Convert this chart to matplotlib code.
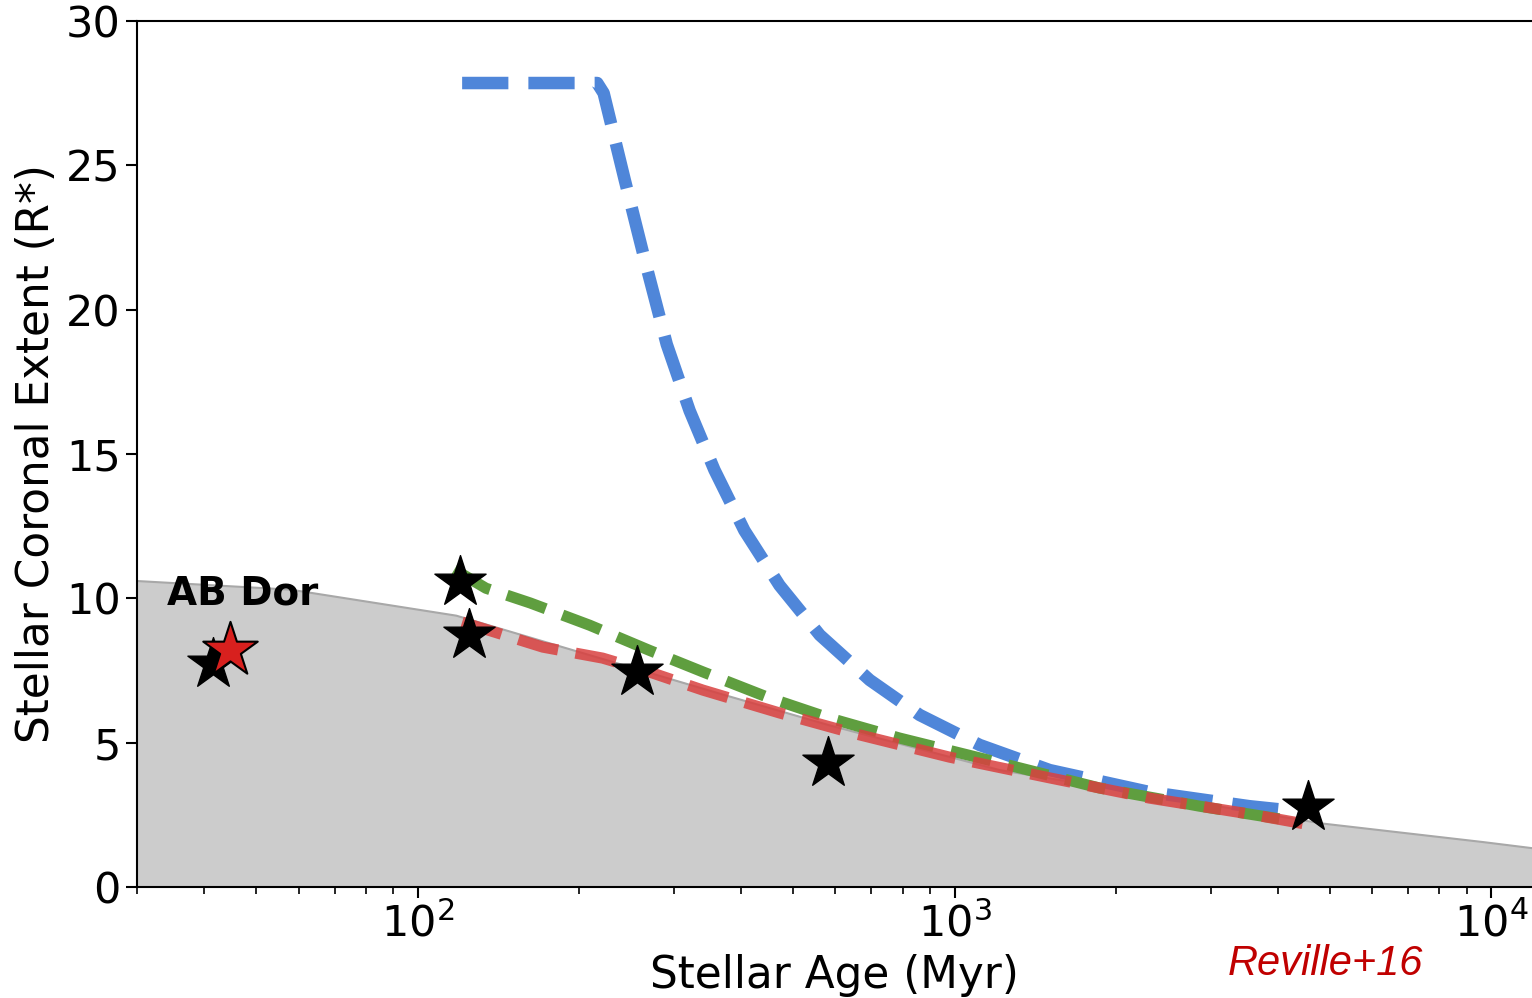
"""
Stellar coronal extent versus stellar age
"""
import numpy as np
import matplotlib
matplotlib.use("Agg")
import matplotlib.pyplot as plt

# gray envelope (age in Myr, extent in R*)
env_age = [30, 58, 118, 365, 585, 1214, 4840, 9620, 11860]
env_r = [10.6, 10.3, 9.4, 6.7, 5.6, 4.05, 2.2, 1.56, 1.35]

# model curves
blue_age = [121, 216, 222, 243, 265, 291, 321, 357, 406, 472, 561, 695, 861,
            1114, 1504, 2307, 3540, 4490]
blue_r = [27.85, 27.85, 27.5, 24.5, 21.7, 18.8, 16.5, 14.45, 12.35, 10.45,
          8.73, 7.17, 5.96, 4.92, 4.05, 3.29, 2.8, 2.6]

green_age = [117, 134, 162, 209, 270, 340, 452, 585, 790, 1214, 1862, 2860, 4390]
green_r = [11.0, 10.35, 9.84, 9.07, 8.2, 7.45, 6.55, 5.85, 5.16, 4.3, 3.43, 2.8, 2.25]

red_age = [121, 171, 221, 274, 340, 472, 646, 978, 1504, 2307, 3540, 4600]
red_r = [9.18, 8.31, 7.93, 7.41, 6.82, 6.03, 5.33, 4.5, 3.78, 3.08, 2.53, 2.15]

# observed stars
star_age = [41.5, 119.8, 124.5, 256, 582, 4560]
star_r = [7.72, 10.55, 8.73, 7.45, 4.3, 2.77]
abdor_age = [44.7]
abdor_r = [8.2]

fig = plt.figure(figsize=(15.32, 9.98), dpi=100)
ax = fig.add_axes([0.0894, 0.1112, 0.9106, 0.8678])

ax.fill_between(env_age, env_r, 0, color="#cccccc", zorder=1)
ax.plot(env_age, env_r, color="#a8a8a8", lw=1.5, zorder=1)

ax.plot(blue_age, blue_r, color="#4f86d9", lw=9, ls="--", zorder=3,
        solid_joinstyle="round", dash_joinstyle="round")
ax.plot(green_age, green_r, color="#5f9e3f", lw=8, ls="--", zorder=3)
ax.plot(red_age, red_r, color="#d9403f", lw=8, ls="--", alpha=0.85, zorder=4)

ax.scatter(star_age, star_r, marker="*", s=1500, color="black", zorder=5)
ax.scatter(abdor_age, abdor_r, marker="*", s=1700, color="#d8201e",
           edgecolor="black", linewidth=1.5, zorder=6)

ax.text(47.3, 9.5, "AB Dor", fontsize=28, fontweight="bold", ha="center",
        va="bottom", zorder=7)

ax.set_xscale("log")
ax.set_xlim(30, 11900)
ax.set_ylim(0, 30)
ax.set_yticks([0, 5, 10, 15, 20, 25, 30])

ax.tick_params(axis="both", which="major", labelsize=31, length=8, width=1.5)
ax.tick_params(axis="both", which="minor", length=5, width=1.2)
for sp in ax.spines.values():
    sp.set_linewidth(1.5)
ax.spines["right"].set_visible(False)

ax.set_xlabel("Stellar Age (Myr)", fontsize=31.5, labelpad=6)
ax.set_ylabel("Stellar Coronal Extent (R*)", fontsize=31.5, labelpad=6)

fig.text(0.865, 0.034, "Reville+16", fontsize=30, style="italic",
         color="#c00000", ha="center", va="center", family="Liberation Sans")

fig.savefig("out.png", dpi=100)
